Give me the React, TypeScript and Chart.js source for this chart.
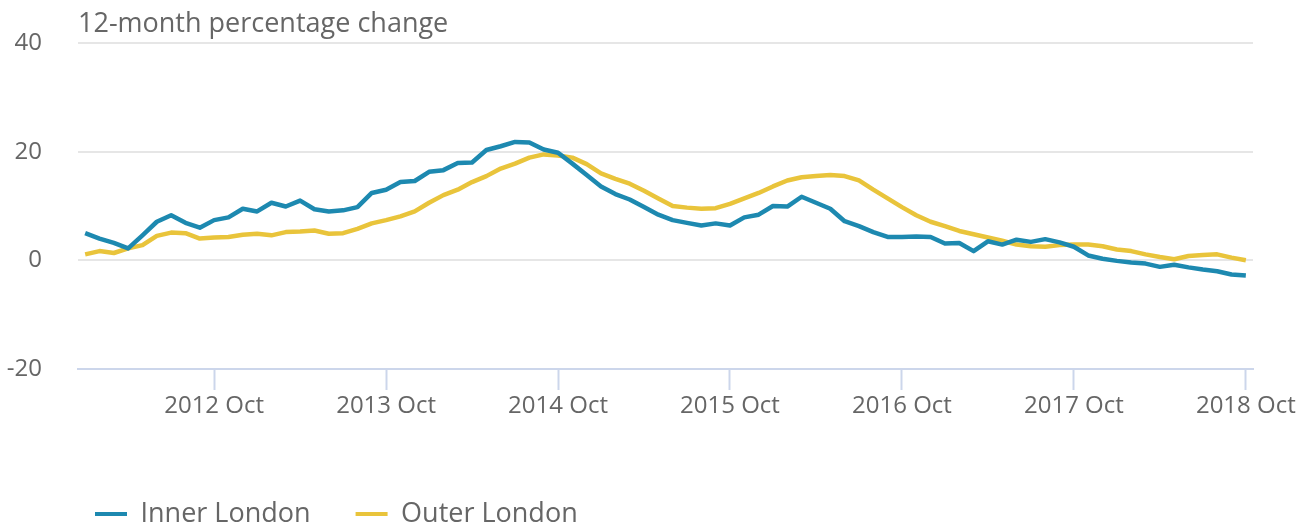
import React, { useEffect, useRef } from 'react';
import { Chart, registerables } from 'chart.js';

Chart.register(...registerables);

// ---- Data ----
const years = [2012, 2013, 2014, 2015, 2016, 2017, 2018];
const monthNames = ['Jan', 'Feb', 'Mar', 'Apr', 'May', 'Jun', 'Jul', 'Aug', 'Sep', 'Oct', 'Nov', 'Dec'];
const lastCategory = '2018 Oct';
const categories: string[] = [];
outer: for (const y of years) {
  for (const m of monthNames) {
    const label = `${y} ${m}`;
    categories.push(label);
    if (label === lastCategory) break outer;
  }
}

const innerLondon = [
  5.0, 4.0, 3.2, 2.2, 4.6, 7.1, 8.3, 6.9, 6.0, 7.4, 7.9, 9.5,
  9.0, 10.6, 9.9, 11.0, 9.4, 9.0, 9.2, 9.8, 12.4, 13.0, 14.4, 14.6,
  16.3, 16.6, 17.9, 18.0, 20.3, 21.0, 21.8, 21.7, 20.4, 19.8, 17.8, 15.7,
  13.6, 12.2, 11.2, 9.8, 8.4, 7.4, 6.9, 6.4, 6.8, 6.4, 7.9, 8.4,
  10.0, 9.9, 11.7, 10.6, 9.5, 7.2, 6.3, 5.2, 4.3, 4.3, 4.4, 4.3,
  3.1, 3.2, 1.7, 3.5, 2.9, 3.8, 3.4, 3.9, 3.3, 2.5, 0.9, 0.3,
  -0.1, -0.4, -0.6, -1.2, -0.8, -1.3, -1.7, -2.0, -2.6, -2.8,
];

const outerLondon = [
  1.1, 1.7, 1.35, 2.2, 2.8, 4.5, 5.1, 5.0, 4.0, 4.2, 4.3, 4.7,
  4.9, 4.6, 5.2, 5.3, 5.5, 4.9, 5.0, 5.8, 6.8, 7.4, 8.1, 9.0,
  10.6, 12.0, 13.0, 14.4, 15.5, 16.9, 17.8, 18.9, 19.5, 19.3, 18.9, 17.7,
  16.0, 15.0, 14.1, 12.8, 11.4, 10.0, 9.7, 9.5, 9.6, 10.4, 11.4, 12.4,
  13.6, 14.7, 15.3, 15.5, 15.7, 15.5, 14.7, 13.0, 11.4, 9.8, 8.3, 7.1,
  6.3, 5.4, 4.8, 4.2, 3.6, 2.9, 2.6, 2.5, 2.8, 2.9, 2.9, 2.6,
  2.0, 1.7, 1.1, 0.6, 0.2, 0.8, 1.0, 1.1, 0.5, 0.0,
];

const xTickMonth = 'Oct';
const yMin = -20;
const yMax = 40;
const yStep = 20;

const seriesNames = ['Inner London', 'Outer London'];
const titleText = '12-month percentage change';

// ---- Styles ----
const FONT = "'Open Sans', 'Noto Sans', sans-serif";
const TEXT = '#666666';
const BLUE = '#1d89b0';
const YELLOW = '#e9c43b';
const GRID = '#e6e6e6';
const AXIS = '#ccd6eb';

const legendShift = {
  id: 'legendShift',
  afterLayout(chart: any) {
    if (chart.legend) chart.legend.left = 50;
  },
};

export default function App() {
  const canvasRef = useRef<HTMLCanvasElement | null>(null);

  useEffect(() => {
    if (!canvasRef.current) return;
    const chart = new Chart(canvasRef.current, {
      type: 'line',
      data: {
        labels: categories,
        datasets: [
          {
            label: seriesNames[0],
            data: innerLondon,
            borderColor: BLUE,
            backgroundColor: BLUE,
            borderWidth: 4.5,
            pointRadius: 0,
            tension: 0,
            borderJoinStyle: 'round',
          },
          {
            label: seriesNames[1],
            data: outerLondon,
            borderColor: YELLOW,
            backgroundColor: YELLOW,
            borderWidth: 4.5,
            pointRadius: 0,
            tension: 0,
            borderJoinStyle: 'round',
          },
        ],
      },
      options: {
        animation: false,
        responsive: true,
        maintainAspectRatio: false,
        layout: { padding: { left: 0, right: 56, top: 0, bottom: -13.5 } },
        plugins: {
          title: {
            display: true,
            text: titleText,
            align: 'start',
            fullSize: false,
            color: TEXT,
            font: { family: FONT, size: 27, weight: 'normal' },
            padding: { top: 8.5, bottom: 2.1 },
          },
          legend: {
            position: 'bottom',
            align: 'start',
            labels: {
              boxWidth: 32,
              boxHeight: 4,
              padding: 45,
              color: TEXT,
              font: { family: FONT, size: 27 },
              generateLabels: (c: any) =>
                (Chart.defaults.plugins.legend.labels as any)
                  .generateLabels(c)
                  .map((l: any) => ({ ...l, lineWidth: 0 })),
            },
          },
          tooltip: { enabled: false },
        },
        scales: {
          x: {
            type: 'category',
            offset: true,
            grid: {
              display: true,
              drawOnChartArea: false,
              drawTicks: true,
              tickLength: 21,
              tickWidth: 2,
              tickColor: AXIS,
              offset: false,
            },
            border: { display: true, color: AXIS, width: 2 },
            ticks: {
              autoSkip: false,
              maxRotation: 0,
              minRotation: 0,
              color: TEXT,
              font: { family: FONT, size: 24 },
              padding: 2,
              callback: (v: any) => categories[v],
            },
            afterBuildTicks: (s: any) => {
              s.ticks = s.ticks.filter((t: any) => categories[t.value].endsWith(xTickMonth));
            },
            afterFit: (s: any) => {
              s.height = 86.5;
            },
          },
          y: {
            min: yMin,
            max: yMax,
            ticks: {
              stepSize: yStep,
              color: TEXT,
              font: { family: FONT, size: 24 },
              padding: 2,
            },
            grid: {
              color: (ctx: any) => (ctx.tick && ctx.tick.value === yMin ? AXIS : GRID),
              lineWidth: 2,
              drawTicks: true,
              tickLength: 34,
              tickColor: 'rgba(0,0,0,0)',
            },
            border: { display: false },
            afterFit: (s: any) => {
              s.width = 78;
            },
          },
        },
      } as any,
      plugins: [legendShift],
    });
    return () => chart.destroy();
  }, []);

  return (
    <div style={{ position: 'fixed', left: 0, top: 0, width: 1309, height: 524, background: '#fff' }}>
      <canvas ref={canvasRef} />
    </div>
  );
}
